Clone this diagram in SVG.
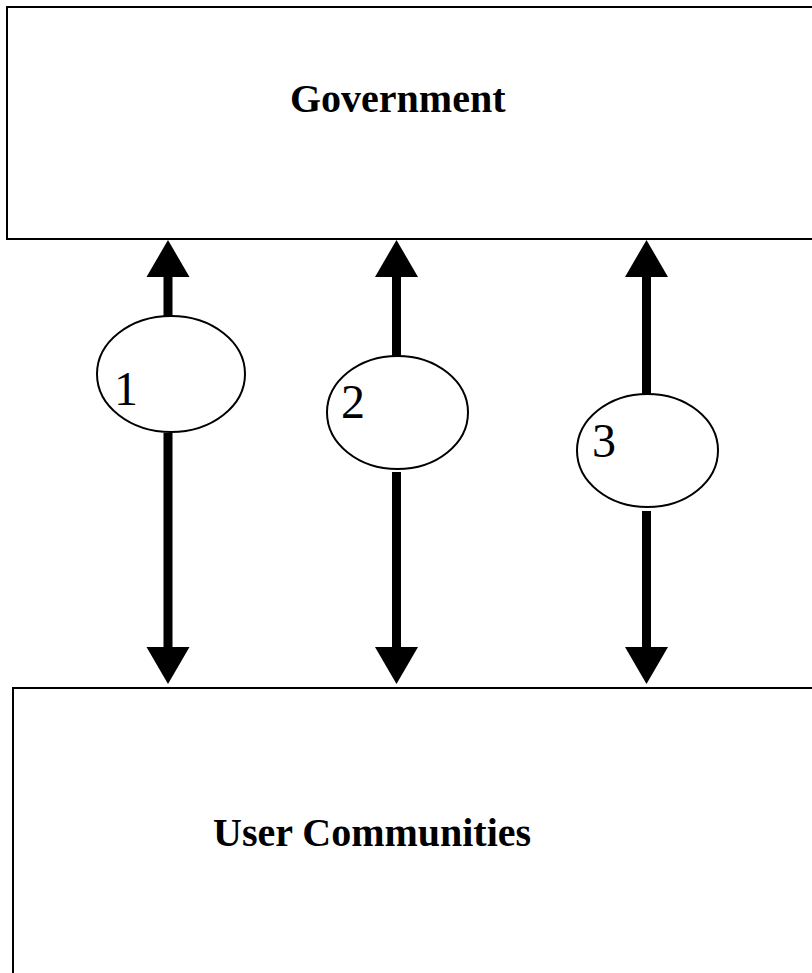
<svg xmlns="http://www.w3.org/2000/svg" width="812" height="973" viewBox="0 0 812 973">
<style>
.box{fill:#fff;stroke:#000;stroke-width:2}
.bubble{fill:#fff;stroke:#000;stroke-width:2}
.label{font-family:"Liberation Serif","Times New Roman",serif;font-weight:bold;font-size:40px;fill:#000}
.num{font-family:"Liberation Serif","Times New Roman",serif;font-size:48px;fill:#000}
.shaft{stroke:#000;stroke-width:9;fill:none}
.head{fill:#000}
</style>
<rect width="812" height="973" fill="#fff"/>
<g id="government">
<rect class="box" x="7" y="7" width="820" height="232"/>
<text class="label" x="290" y="112">Government</text>
</g>
<g id="user-communities">
<rect class="box" x="13" y="688" width="820" height="300"/>
<text class="label" x="213" y="846">User Communities</text>
</g>
<g id="connectors">
<line class="shaft" x1="168" y1="276" x2="168" y2="317"/>
<line class="shaft" x1="168" y1="433" x2="168" y2="648"/>
<polygon class="head" points="168,240 146.5,277 189.5,277"/>
<polygon class="head" points="146.5,647 189.5,647 168,684"/>
<line class="shaft" x1="396.5" y1="276" x2="396.5" y2="357"/>
<line class="shaft" x1="396.5" y1="472" x2="396.5" y2="648"/>
<polygon class="head" points="396.5,240 375,277 418,277"/>
<polygon class="head" points="375,647 418,647 396.5,684"/>
<line class="shaft" x1="646.5" y1="276" x2="646.5" y2="395"/>
<line class="shaft" x1="646.5" y1="511" x2="646.5" y2="648"/>
<polygon class="head" points="646.5,240 625,277 668,277"/>
<polygon class="head" points="625,647 668,647 646.5,684"/>
</g>
<g id="channel-1">
<ellipse class="bubble" cx="171" cy="374" rx="74" ry="58"/>
<text class="num" x="114" y="405">1</text>
</g>
<g id="channel-2">
<ellipse class="bubble" cx="397.5" cy="412.5" rx="70.5" ry="56.5"/>
<text class="num" x="341" y="418">2</text>
</g>
<g id="channel-3">
<ellipse class="bubble" cx="647.5" cy="450.5" rx="70.5" ry="56.5"/>
<text class="num" x="592" y="457">3</text>
</g>
</svg>
